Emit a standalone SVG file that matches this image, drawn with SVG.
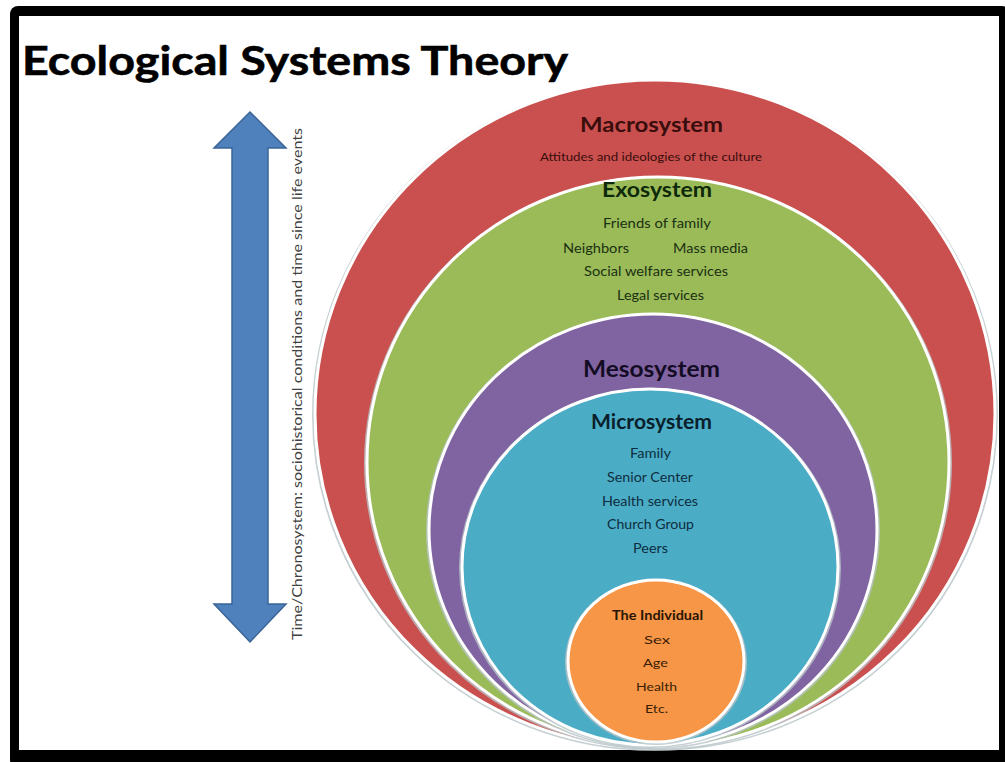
<svg xmlns="http://www.w3.org/2000/svg" width="1005" height="762" viewBox="0 0 1005 762">
<defs>
<style>
.t{font-family:Lato,"Open Sans","Liberation Sans",sans-serif;text-anchor:middle}
.h{font-weight:bold}
.ring{stroke:#ffffff;stroke-width:3}
.shadow{fill:none;stroke:#b8c4c8;stroke-width:2;opacity:0.8}
</style>
</defs>
<rect x="0" y="0" width="1005" height="762" fill="#ffffff"/>
<rect x="10" y="6" width="1000" height="762" rx="8" fill="#000000"/>
<rect x="19" y="16" width="980" height="734" fill="#ffffff"/>
<text x="22" y="75" font-family="Lato,'Open Sans','Liberation Sans',sans-serif" font-weight="bold" font-size="41" fill="#000000" stroke="#000000" stroke-width="0.6" textLength="546" lengthAdjust="spacingAndGlyphs">Ecological Systems Theory</text>

<g id="chronosystem">
<path d="M250,112 L286,148 L268,148 L268,604 L286,604 L250,642 L214,604 L232,604 L232,148 L214,148 Z" fill="#4F81BD" stroke="#3A6496" stroke-width="1.5"/>
<text transform="translate(302,384) rotate(-90)" class="t" font-size="13.5" fill="#404040" textLength="512" lengthAdjust="spacingAndGlyphs">Time/Chronosystem: sociohistorical conditions and time since life events</text>
</g>

<g id="macrosystem">
<ellipse cx="655" cy="415" rx="342" ry="335" class="shadow"/>
<ellipse cx="655" cy="414" rx="340" ry="334" fill="#C9504E" class="ring"/>
<text x="651.5" y="132" class="t h" font-size="21" fill="#3a0d0d" textLength="143" lengthAdjust="spacingAndGlyphs">Macrosystem</text>
<text x="651" y="161" class="t" font-size="10.5" fill="#3a0d0d" textLength="222" lengthAdjust="spacingAndGlyphs">Attitudes and ideologies of the culture</text>
</g>

<g id="exosystem">
<ellipse cx="658" cy="463" rx="293" ry="286" class="shadow"/>
<ellipse cx="658" cy="462" rx="291" ry="285" fill="#9BBB59" class="ring"/>
<text x="657" y="197" class="t h" font-size="20" fill="#0f2a0a" textLength="110" lengthAdjust="spacingAndGlyphs">Exosystem</text>
<text x="657" y="228" class="t" font-size="13" fill="#1a3010" textLength="108" lengthAdjust="spacingAndGlyphs">Friends of family</text>
<text x="596" y="253" class="t" font-size="13" fill="#1a3010" textLength="66" lengthAdjust="spacingAndGlyphs">Neighbors</text>
<text x="710.5" y="253" class="t" font-size="13" fill="#1a3010" textLength="75" lengthAdjust="spacingAndGlyphs">Mass media</text>
<text x="656" y="276" class="t" font-size="13" fill="#1a3010" textLength="144" lengthAdjust="spacingAndGlyphs">Social welfare services</text>
<text x="660.5" y="300" class="t" font-size="13" fill="#1a3010" textLength="87" lengthAdjust="spacingAndGlyphs">Legal services</text>
</g>

<g id="mesosystem">
<ellipse cx="653" cy="531" rx="226" ry="217" class="shadow"/>
<ellipse cx="653" cy="530" rx="224" ry="216" fill="#8064A2" class="ring"/>
<text x="651.5" y="377" class="t h" font-size="22" fill="#140c24" textLength="137" lengthAdjust="spacingAndGlyphs">Mesosystem</text>
</g>

<g id="microsystem">
<ellipse cx="650" cy="568" rx="190" ry="179" class="shadow"/>
<ellipse cx="650" cy="567" rx="188" ry="178" fill="#4BACC6" class="ring"/>
<text x="651.5" y="429" class="t h" font-size="20" fill="#0a1f2c" textLength="121" lengthAdjust="spacingAndGlyphs">Microsystem</text>
<text x="650.5" y="458" class="t" font-size="13" fill="#0d2e40" textLength="41" lengthAdjust="spacingAndGlyphs">Family</text>
<text x="650" y="482" class="t" font-size="13" fill="#0d2e40" textLength="86" lengthAdjust="spacingAndGlyphs">Senior Center</text>
<text x="650" y="506" class="t" font-size="13" fill="#0d2e40" textLength="96" lengthAdjust="spacingAndGlyphs">Health services</text>
<text x="650.5" y="529" class="t" font-size="13" fill="#0d2e40" textLength="87" lengthAdjust="spacingAndGlyphs">Church Group</text>
<text x="650.5" y="553" class="t" font-size="13" fill="#0d2e40" textLength="35" lengthAdjust="spacingAndGlyphs">Peers</text>
</g>

<g id="individual">
<ellipse cx="656" cy="662" rx="90" ry="82" class="shadow"/>
<ellipse cx="656" cy="661" rx="88" ry="81" fill="#F79646" class="ring"/>
<text x="657.5" y="620" class="t h" font-size="12.5" fill="#2a1505" textLength="91" lengthAdjust="spacingAndGlyphs">The Individual</text>
<text x="657" y="644" class="t" font-size="12" fill="#3a1d05" textLength="26" lengthAdjust="spacingAndGlyphs">Sex</text>
<text x="655.5" y="667" class="t" font-size="12" fill="#3a1d05" textLength="25" lengthAdjust="spacingAndGlyphs">Age</text>
<text x="656.5" y="691" class="t" font-size="12" fill="#3a1d05" textLength="41" lengthAdjust="spacingAndGlyphs">Health</text>
<text x="656.5" y="713" class="t" font-size="12" fill="#3a1d05" textLength="23" lengthAdjust="spacingAndGlyphs">Etc.</text>
</g>
<g id="connectors"></g>
</svg>
